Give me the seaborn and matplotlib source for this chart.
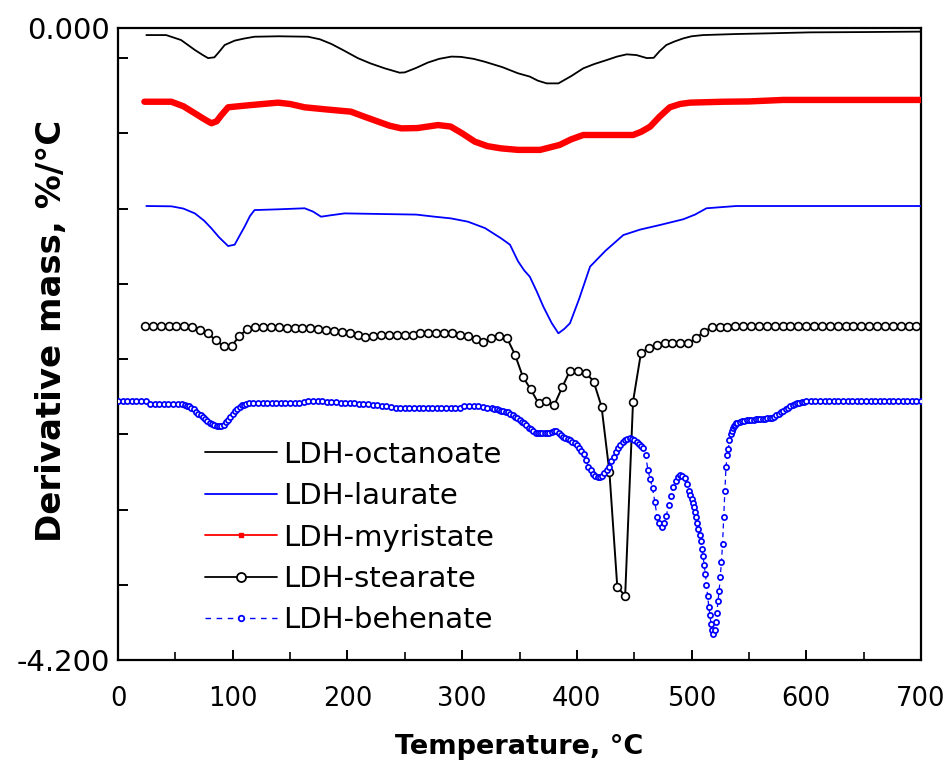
import numpy as np
import pandas as pd
import matplotlib
matplotlib.use("Agg")
import matplotlib.pyplot as plt
from matplotlib.lines import Line2D
import seaborn as sns

# ---------------- data ----------------
series_names = ["LDH-octanoate", "LDH-laurate", "LDH-myristate", "LDH-stearate", "LDH-behenate"]

oct_T = [24.7, 42, 55, 67, 74, 78.5, 84, 88, 93, 101.7, 110, 119, 140, 165.6, 176, 186, 197, 209,
         220, 232.5, 245.5, 250, 260, 270, 280, 290.6, 299, 310, 319.6, 335, 348.7, 359, 366, 373.7,
         383.9, 395, 405.6, 415, 426, 435, 443.5, 452, 461, 467, 472, 478, 485, 492.8, 500, 510,
         539, 570, 603, 650, 700]
oct_v = [-0.047, -0.047, -0.08, -0.146, -0.18, -0.20, -0.195, -0.16, -0.113, -0.084, -0.07, -0.058,
         -0.055, -0.058, -0.075, -0.106, -0.15, -0.20, -0.235, -0.268, -0.297, -0.295, -0.265, -0.23,
         -0.205, -0.19, -0.192, -0.205, -0.224, -0.26, -0.301, -0.323, -0.35, -0.368, -0.368, -0.32,
         -0.268, -0.24, -0.213, -0.19, -0.175, -0.18, -0.20, -0.198, -0.155, -0.113, -0.09, -0.069,
         -0.055, -0.047, -0.04, -0.035, -0.029, -0.027, -0.024]

lau_T = [24.7, 46.5, 57, 67, 75, 81.4, 88, 96, 101.7, 106, 110.4, 115, 119, 139.5, 162.7, 170, 177,
         185, 197.6, 220.8, 260, 276, 290, 305, 320, 334, 341.7, 348.7, 354, 359, 365, 370.8, 378,
         383.9, 389, 394, 402, 411.5, 425, 440.5, 455, 472.5, 492.8, 503, 513, 539, 700]
lau_v = [-1.183, -1.185, -1.20, -1.232, -1.28, -1.331, -1.39, -1.449, -1.44, -1.38, -1.32, -1.25,
         -1.21, -1.205, -1.198, -1.22, -1.254, -1.245, -1.232, -1.235, -1.24, -1.254, -1.265, -1.287,
         -1.33, -1.398, -1.44, -1.55, -1.61, -1.653, -1.75, -1.852, -1.96, -2.029, -2.00, -1.962,
         -1.80, -1.586, -1.48, -1.376, -1.34, -1.309, -1.271, -1.24, -1.198, -1.183, -1.183]

myr_T = [23, 46.5, 57, 67, 75, 81.4, 86, 90, 96, 105, 116, 139.5, 150, 162.7, 180, 203, 215, 226.7,
         237, 247, 261, 270, 279, 290, 300, 311, 322, 334, 348.7, 368, 385, 395, 405.6, 449, 456,
         463.8, 472, 481, 490, 498.6, 527.7, 550, 580, 700]
myr_v = [-0.49, -0.49, -0.52, -0.567, -0.605, -0.633, -0.62, -0.58, -0.527, -0.52, -0.512, -0.496,
         -0.505, -0.527, -0.54, -0.556, -0.59, -0.622, -0.65, -0.667, -0.665, -0.655, -0.645, -0.655,
         -0.70, -0.755, -0.785, -0.80, -0.81, -0.81, -0.777, -0.74, -0.711, -0.711, -0.69, -0.656,
         -0.59, -0.527, -0.505, -0.496, -0.49, -0.488, -0.478, -0.478]

# stearate: one reading per marker (sampling interval ~6.86 degC)
ste_T = np.linspace(23.5, 696, 99)
ste_v = [-1.98, -1.98, -1.98, -1.98, -1.98, -1.98, -1.99, -2.005, -2.03, -2.075,
         -2.115, -2.115, -2.045, -2.003, -1.989, -1.989, -1.989, -1.989, -1.996, -1.996,
         -1.996, -1.996, -2.0, -2.007, -2.012, -2.02, -2.029, -2.04, -2.051, -2.045,
         -2.04, -2.04, -2.04, -2.04, -2.04, -2.025, -2.025, -2.025, -2.025, -2.029,
         -2.04, -2.05, -2.069, -2.084, -2.062, -2.047, -2.062, -2.17, -2.317, -2.401,
         -2.494, -2.479, -2.505, -2.388, -2.277, -2.277, -2.29, -2.35, -2.516, -2.95,
         -3.713, -3.775, -2.483, -2.162, -2.124, -2.107, -2.096, -2.096, -2.096, -2.096,
         -2.062, -2.018, -1.989, -1.989, -1.984, -1.978, -1.978, -1.978, -1.978, -1.978,
         -1.978, -1.978, -1.978, -1.978, -1.978, -1.978, -1.978, -1.978, -1.978, -1.978,
         -1.978, -1.978, -1.978, -1.978, -1.978, -1.978, -1.978, -1.978, -1.978]

# behenate: one reading per marker; sampling grid per temperature segment
beh_T = np.concatenate([np.arange(0, 57, 4), np.arange(58, 115, 2), np.arange(118, 327, 4),
                        np.arange(328, 499, 2), np.arange(499, 541, 1), np.arange(542, 601, 2),
                        np.arange(604, 701, 4)])
beh_v = [
    # 0..56 step 4
    -2.479, -2.479, -2.479, -2.479, -2.479, -2.479, -2.479, -2.499, -2.499, -2.499,
    -2.499, -2.499, -2.499, -2.499, -2.502,
    # 58..114 step 2
    -2.505, -2.51, -2.515, -2.522, -2.535, -2.55, -2.563, -2.575, -2.588, -2.60,
    -2.612, -2.623, -2.632, -2.638, -2.643, -2.645, -2.642, -2.635, -2.62, -2.605,
    -2.583, -2.565, -2.545, -2.53, -2.517, -2.508, -2.503, -2.498, -2.495,
    # 118..326 step 4
    -2.494, -2.494, -2.494, -2.494, -2.494, -2.494, -2.493, -2.492, -2.492, -2.49,
    -2.49, -2.485, -2.479, -2.479, -2.479, -2.482, -2.485, -2.487, -2.488, -2.49,
    -2.49, -2.492, -2.495, -2.497, -2.499, -2.502, -2.505, -2.508, -2.511, -2.515,
    -2.52, -2.525, -2.527, -2.527, -2.527, -2.527, -2.527, -2.527, -2.527, -2.527,
    -2.527, -2.527, -2.527, -2.527, -2.527, -2.527, -2.515, -2.512, -2.512, -2.514,
    -2.518, -2.522, -2.527,
    # 328..498 step 2
    -2.529, -2.534, -2.538, -2.542, -2.546, -2.55, -2.555, -2.563, -2.572, -2.582,
    -2.594, -2.605, -2.616, -2.627, -2.638, -2.655, -2.668, -2.68, -2.69, -2.693,
    -2.693, -2.693, -2.693, -2.693, -2.693, -2.685, -2.677, -2.678, -2.69, -2.703,
    -2.716, -2.724, -2.732, -2.74, -2.75, -2.76, -2.771, -2.79, -2.81, -2.83,
    -2.87, -2.915, -2.94, -2.962, -2.975, -2.982, -2.986, -2.978, -2.96, -2.94,
    -2.915, -2.88, -2.849, -2.82, -2.79, -2.771, -2.752, -2.74, -2.73, -2.728,
    -2.733, -2.74, -2.749, -2.762, -2.775, -2.793, -2.84, -2.94, -3.0, -3.06,
    -3.15, -3.25, -3.29, -3.318, -3.29, -3.24, -3.17, -3.11, -3.05, -3.01,
    -2.985, -2.97, -2.975, -2.99, -3.03, -3.08,
    # 499..540 step 1
    -3.105, -3.13, -3.155, -3.18, -3.214, -3.25, -3.29, -3.33, -3.37, -3.41,
    -3.46, -3.51, -3.57, -3.63, -3.70, -3.775, -3.845, -3.90, -3.96, -4.00,
    -4.027, -4.00, -3.95, -3.89, -3.81, -3.74, -3.65, -3.55, -3.43, -3.25,
    -3.08, -2.92, -2.84, -2.80, -2.74, -2.70, -2.675, -2.655, -2.645, -2.635,
    -2.628, -2.622,
    # 542..600 step 2
    -2.617, -2.614, -2.611, -2.608, -2.605, -2.604, -2.603, -2.601, -2.60, -2.60,
    -2.598, -2.597, -2.595, -2.594, -2.59, -2.585, -2.575, -2.565, -2.555, -2.545,
    -2.535, -2.522, -2.512, -2.505, -2.50, -2.495, -2.49, -2.486, -2.483, -2.481,
    # 604..700 step 4
    -2.479, -2.479, -2.479, -2.479, -2.479, -2.479, -2.479, -2.479, -2.479, -2.479,
    -2.479, -2.479, -2.479, -2.479, -2.479, -2.479, -2.479, -2.479, -2.479, -2.479,
    -2.479, -2.479, -2.479, -2.479, -2.479,
]

x_ticks = [0, 100, 200, 300, 400, 500, 600, 700]
x_minor = [50, 150, 250, 350, 450, 550, 650]
y_ticks = [-4.2, -3.7, -3.2, -2.7, -2.2, -1.7, -1.2, -0.7, -0.2, 0.0]
y_tick_labels = ["-4.200", "", "", "", "", "", "", "", "", "0.000"]
x_label = "Temperature, °C"
y_label = "Derivative mass, %/°C"

# ---------------- plot ----------------
sns.set_style("white")
plt.rcParams["font.family"] = ["DejaVu Sans"]
plt.rcParams["text.color"] = "black"
plt.rcParams["axes.labelcolor"] = "black"

fig = plt.figure(figsize=(9.5, 7.64), dpi=100)
ax = fig.add_axes([118 / 950, 1 - 660 / 764, (921 - 118) / 950, (660 - 28) / 764])

def df(T, v):
    return pd.DataFrame({"T": np.asarray(T, float), "v": np.asarray(v, float)})

sns.lineplot(data=df(oct_T, oct_v), x="T", y="v", ax=ax, color="black", lw=1.3, zorder=3)
sns.lineplot(data=df(lau_T, lau_v), x="T", y="v", ax=ax, color="#0000ff", lw=1.3, zorder=3)
sns.lineplot(data=df(myr_T, myr_v), x="T", y="v", ax=ax, color="#ff0000", lw=4.6, zorder=3)
sns.lineplot(data=df(ste_T, ste_v), x="T", y="v", ax=ax, color="black", lw=1.4, zorder=4,
             marker="o", markersize=5.6, markerfacecolor="white", markeredgecolor="black",
             markeredgewidth=1.2)
sns.lineplot(data=df(beh_T, beh_v), x="T", y="v", ax=ax, color="#0000ff", lw=0.9, zorder=5,
             linestyle=(0, (4, 3)), marker="o", markersize=3.7, markerfacecolor="white",
             markeredgecolor="#0000ff", markeredgewidth=1.25)

ax.set_xlim(0, 700)
ax.set_ylim(-4.2, 0)
ax.set_xticks(x_ticks)
ax.set_xticks(x_minor, minor=True)
ax.set_yticks(y_ticks)
ax.set_yticklabels(y_tick_labels)
ax.tick_params(axis="both", which="major", direction="in", length=7, width=1.4,
               colors="black")
ax.tick_params(axis="x", which="major", labelsize=18.5, pad=18.5)
ax.tick_params(axis="y", which="major", labelsize=21, pad=6)
ax.tick_params(axis="x", which="minor", direction="in", length=5.5, width=1.4, bottom=True)
ax.tick_params(left=True, bottom=True, right=False, top=False)
for s in ax.spines.values():
    s.set_linewidth(1.6)
    s.set_color("black")
ax.set_xlabel(x_label, fontsize=19.5, fontweight="bold", color="black")
ax.set_ylabel(y_label, fontsize=24.5, fontweight="bold", color="black")
ax.xaxis.set_label_coords(0.5, -0.117)
ax.yaxis.set_label_coords(-0.062, 0.52)

handles = [
    Line2D([], [], color="black", lw=1.3),
    Line2D([], [], color="#0000ff", lw=1.3),
    Line2D([], [], color="#ff0000", lw=1.3, marker="s", markersize=3.5),
    Line2D([], [], color="black", lw=1.3, marker="o", markersize=6.5, markerfacecolor="white",
           markeredgewidth=1.3),
    Line2D([], [], color="#0000ff", lw=1.0, linestyle=(0, (4, 4)), marker="o", markersize=4,
           markerfacecolor="white", markeredgewidth=1.3),
]
leg = ax.legend(handles, series_names, loc="upper left", bbox_to_anchor=(0.0938, 0.3655),
                frameon=False, fontsize=21, handlelength=2.47, handletextpad=0.2,
                labelspacing=0.46, borderaxespad=0)

fig.savefig("out.png", dpi=100)
